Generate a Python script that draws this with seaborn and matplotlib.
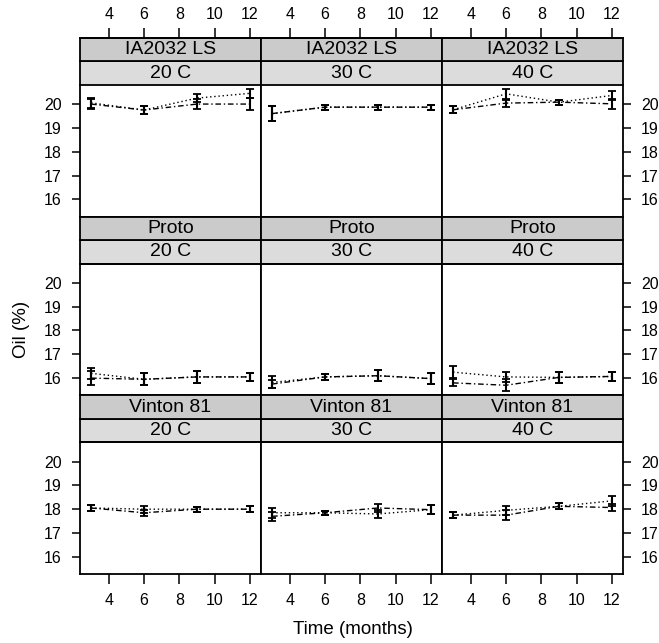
import pandas as pd
import matplotlib
matplotlib.use("Agg")
import matplotlib.pyplot as plt
import seaborn as sns
from matplotlib.patches import Rectangle

# panel layout
months = [3, 6, 9, 12]
varieties = ["IA2032 LS", "Proto", "Vinton 81"]
temps = ["20 C", "30 C", "40 C"]

# oil means, one inner list per temperature (20, 30, 40 C)
ia_dotted = [[20.05, 19.75, 20.25, 20.45], [19.6, 19.87, 19.87, 19.87], [19.76, 20.43, 20.08, 20.36]]
ia_dotted_err = [[0.2, 0.15, 0.18, 0.2], [0.3, 0.1, 0.1, 0.1], [0.15, 0.2, 0.1, 0.2]]
ia_dashdot = [[20.0, 19.75, 20.0, 20.0], [19.6, 19.87, 19.87, 19.87], [19.76, 20.04, 20.08, 20.01]]
ia_dashdot_err = [[0.2, 0.15, 0.2, 0.25], [0.3, 0.1, 0.1, 0.1], [0.15, 0.15, 0.1, 0.2]]

proto_dotted = [[16.2, 15.95, 16.05, 16.05], [15.82, 16.05, 16.1, 15.98], [16.25, 16.05, 16.03, 16.07]]
proto_dotted_err = [[0.22, 0.25, 0.25, 0.18], [0.25, 0.12, 0.22, 0.22], [0.25, 0.2, 0.22, 0.2]]
proto_dashdot = [[16.0, 15.95, 16.05, 16.05], [15.75, 16.05, 16.1, 15.98], [15.8, 15.7, 16.03, 16.07]]
proto_dashdot_err = [[0.3, 0.25, 0.25, 0.18], [0.17, 0.12, 0.22, 0.22], [0.15, 0.25, 0.22, 0.2]]

vinton_dotted = [[18.05, 18.0, 18.0, 18.0], [17.85, 17.85, 17.8, 17.98], [17.75, 17.95, 18.12, 18.35]]
vinton_dotted_err = [[0.12, 0.15, 0.1, 0.12], [0.2, 0.08, 0.17, 0.2], [0.12, 0.18, 0.13, 0.2]]
vinton_dashdot = [[18.05, 17.85, 18.0, 18.0], [17.7, 17.85, 18.05, 17.98], [17.75, 17.75, 18.12, 18.07]]
vinton_dashdot_err = [[0.12, 0.13, 0.1, 0.12], [0.2, 0.08, 0.18, 0.2], [0.12, 0.2, 0.13, 0.15]]

series = [
    ("IA2032 LS", ia_dotted, ia_dotted_err, ia_dashdot, ia_dashdot_err),
    ("Proto", proto_dotted, proto_dotted_err, proto_dashdot, proto_dashdot_err),
    ("Vinton 81", vinton_dotted, vinton_dotted_err, vinton_dashdot, vinton_dashdot_err),
]

rows = []
for var, dot, dot_err, dd, dd_err in series:
    for t, temp in enumerate(temps):
        for i, m in enumerate(months):
            rows.append(dict(variety=var, temp=temp, month=m, line="dotted", oil=dot[t][i], err=dot_err[t][i]))
            rows.append(dict(variety=var, temp=temp, month=m, line="dashdot", oil=dd[t][i], err=dd_err[t][i]))
df = pd.DataFrame(rows)

sns.set_style("white")
plt.rcParams["font.family"] = ["Liberation Sans", "DejaVu Sans"]
plt.rcParams["text.color"] = "black"

g = sns.FacetGrid(df, row="variety", col="temp", row_order=varieties, col_order=temps,
                  sharex=True, sharey=True, height=2, aspect=1.4, despine=False)

line_styles = {"dotted": (0, (1, 2)), "dashdot": (0, (4, 2, 1, 2))}


def draw(data, **kws):
    ax = plt.gca()
    for name, d in data.groupby("line"):
        ax.errorbar(d["month"], d["oil"], yerr=d["err"], color="black", ls=line_styles[name],
                    lw=1.0, elinewidth=1.5, capsize=3, capthick=1.3)


g.map_dataframe(draw)
g.set(xlim=(2.37, 12.63), ylim=(15.28, 20.8), xticks=[4, 6, 8, 10, 12], yticks=[16, 17, 18, 19, 20])
g.set_axis_labels("", "")

strip_h = 23.5 / 131
for r, var in enumerate(varieties):
    for c, temp in enumerate(temps):
        ax = g.axes[r, c]
        ax.set_title("")
        for s in ax.spines.values():
            s.set_color("black")
            s.set_linewidth(1.3)
        # two strips on top (temperature below, variety above)
        ax.add_patch(Rectangle((0, 1), 1, strip_h, transform=ax.transAxes, clip_on=False,
                               facecolor="#dcdcdc", edgecolor="black", lw=1.3))
        ax.add_patch(Rectangle((0, 1 + strip_h), 1, strip_h, transform=ax.transAxes, clip_on=False,
                               facecolor="#cbcbcb", edgecolor="black", lw=1.3))
        ax.text(0.5, 1 + strip_h / 2, temp, transform=ax.transAxes, ha="center", va="center", fontsize=14)
        ax.text(0.5, 1 + strip_h * 1.5, var, transform=ax.transAxes, ha="center", va="center", fontsize=14)

        ax.tick_params(axis="both", direction="out", length=7, width=1.1, pad=7, labelsize=11.5,
                       color="black", labelcolor="black",
                       bottom=False, top=False, left=False, right=False,
                       labelbottom=False, labeltop=False, labelleft=False, labelright=False)
        if r == 0:
            ax.spines["top"].set_position(("outward", 47 * 72 / 100))
            ax.tick_params(axis="x", top=True, labeltop=True, pad=4.5)
        if r == 2:
            ax.tick_params(axis="x", bottom=True, labelbottom=True)
        if c == 0:
            ax.tick_params(axis="y", left=True, labelleft=True, length=6)
        if c == 2:
            ax.tick_params(axis="y", right=True, labelright=True, length=6)

fig = g.figure
fig.set_size_inches(6.59, 6.43)
fig.subplots_adjust(left=80 / 659, right=623 / 659, bottom=1 - 574 / 643, top=1 - 85 / 643,
                    wspace=0, hspace=47 / 131)
fig.text(353 / 659, 1 - 630 / 643, "Time (months)", ha="center", va="center", fontsize=13.5)
fig.text(22 / 659, 1 - 329 / 643, "Oil (%)", ha="center", va="center", rotation=90, fontsize=13.5)

fig.savefig("out.png", dpi=100)
